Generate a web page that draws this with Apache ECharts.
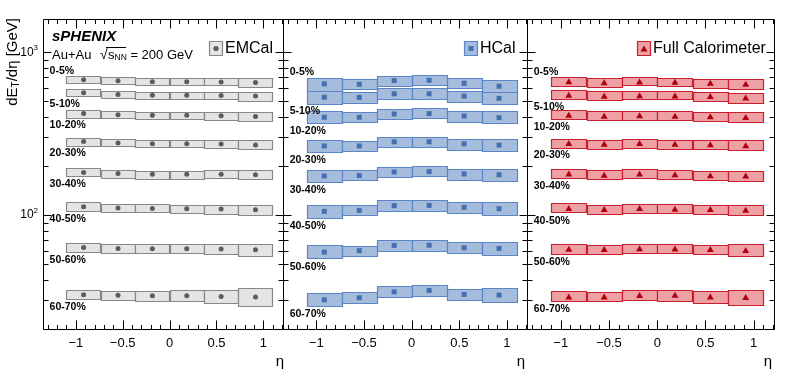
<!DOCTYPE html>
<html>
<head>
<meta charset="utf-8">
<script src="https://cdn.jsdelivr.net/npm/echarts@6/dist/echarts.min.js"></script>
<style>
  html, body { margin: 0; padding: 0; background: #fff; }
  #chart { width: 787px; height: 376px; }
</style>
</head>
<body>
<div id="chart"></div>
<script>
// eta bins (centres) and half width of a bin
const etaBins = [-0.9167, -0.55, -0.1833, 0.1833, 0.55, 0.9167];
const etaHalfWidth = 0.1833;
const centralityClasses = ['0-5%', '5-10%', '10-20%', '20-30%', '30-40%', '40-50%', '50-60%', '60-70%'];

// tick values
const xTickLabels = [-1, -0.5, 0, 0.5, 1];
const xMinorTicks = [-1.3, -1.2, -1.1, -0.9, -0.8, -0.7, -0.6, -0.4, -0.3, -0.2, -0.1,
  0.1, 0.2, 0.3, 0.4, 0.6, 0.7, 0.8, 0.9, 1.1, 1.2];
const yTickLabels = [100, 1000];
const yMinorTicks = [20, 30, 40, 50, 60, 70, 80, 90, 200, 300, 400, 500, 600, 700, 800, 900];

// dE_T/deta (scaled), one row per centrality class
const emcalValues = [
  [677, 668, 660, 658, 657, 651],
  [564, 551, 545, 545, 543, 538],
  [420, 414, 410, 410, 408, 403],
  [283, 277, 274, 274, 273, 270],
  [183, 180, 178, 178, 178, 177],
  [112.7, 110.6, 110.0, 109.5, 109.0, 108.0],
  [63.3, 62.5, 62.2, 62.2, 61.9, 61.3],
  [32.4, 32.2, 32.0, 32.0, 31.7, 31.4]
];
const emcalSys = [
  [0.053, 0.053, 0.050, 0.050, 0.053, 0.063],
  [0.053, 0.053, 0.050, 0.050, 0.053, 0.063],
  [0.055, 0.053, 0.050, 0.050, 0.055, 0.063],
  [0.055, 0.053, 0.052, 0.052, 0.057, 0.065],
  [0.057, 0.055, 0.055, 0.055, 0.060, 0.068],
  [0.063, 0.058, 0.060, 0.060, 0.065, 0.070],
  [0.065, 0.065, 0.065, 0.067, 0.075, 0.088],
  [0.065, 0.063, 0.070, 0.078, 0.093, 0.132]
];

const hcalValues = [
  [640, 636, 670, 673, 645, 619],
  [530, 528, 556, 556, 538, 521],
  [399, 399, 418, 420, 406, 397],
  [266, 266, 282, 282, 274, 269],
  [174, 175, 184, 185, 179, 177],
  [105.5, 107.0, 114.3, 114.8, 111.6, 109.5],
  [59.3, 60.5, 65.2, 65.4, 63.1, 62.5],
  [30.2, 31.1, 33.8, 34.5, 32.6, 32.3]
];
const hcalSys = [
  [0.093, 0.076, 0.073, 0.073, 0.077, 0.091],
  [0.093, 0.078, 0.080, 0.080, 0.078, 0.088],
  [0.091, 0.076, 0.076, 0.076, 0.078, 0.091],
  [0.091, 0.076, 0.076, 0.076, 0.078, 0.090],
  [0.091, 0.076, 0.076, 0.076, 0.078, 0.090],
  [0.098, 0.076, 0.078, 0.080, 0.078, 0.093],
  [0.100, 0.076, 0.078, 0.078, 0.078, 0.100],
  [0.100, 0.080, 0.080, 0.083, 0.080, 0.103]
];

const fullValues = [
  [664, 655, 661, 658, 649, 640],
  [548, 541, 545, 543, 538, 528],
  [414, 408, 410, 408, 404, 400],
  [277, 274, 277, 274, 272, 269],
  [180, 177, 180, 178, 176, 175],
  [110.6, 109.0, 110.6, 109.5, 109.0, 108.0],
  [62.2, 61.9, 62.7, 62.5, 61.9, 61.0],
  [31.7, 31.7, 32.3, 32.4, 31.7, 31.4]
];
const fullSys = [
  [0.065, 0.063, 0.060, 0.060, 0.063, 0.070],
  [0.065, 0.063, 0.060, 0.060, 0.063, 0.070],
  [0.065, 0.063, 0.062, 0.062, 0.063, 0.070],
  [0.065, 0.063, 0.062, 0.062, 0.065, 0.072],
  [0.066, 0.063, 0.062, 0.062, 0.065, 0.072],
  [0.068, 0.063, 0.063, 0.063, 0.063, 0.073],
  [0.073, 0.063, 0.065, 0.065, 0.065, 0.088],
  [0.076, 0.068, 0.070, 0.078, 0.086, 0.109]
];

const FONT = 'Liberation Sans, Arial, Helvetica, sans-serif';

const panels = [
  { name: 'EMCal', values: emcalValues, sys: emcalSys, fill: '#e4e4e4', stroke: '#878787',
    marker: '#5c5c5c', symbol: 'circle', symbolSize: 5,
    grid: { left: 43, top: 19, width: 240, height: 310 }, legendX: 209, etaX: 280 },
  { name: 'HCal', values: hcalValues, sys: hcalSys, fill: '#a5bcdc', stroke: '#5b86c6',
    marker: '#4470b0', symbol: 'rect', symbolSize: 5,
    grid: { left: 283, top: 19, width: 244, height: 310 }, legendX: 464, etaX: 521 },
  { name: 'Full Calorimeter', values: fullValues, sys: fullSys, fill: '#eea0a4', stroke: '#c8202c',
    marker: '#b0000e', symbol: 'triangle', symbolSize: [7, 6],
    grid: { left: 527, top: 19, width: 247, height: 310 }, legendX: 637, etaX: 768 }
];

const labelEta = -1.28;
const snap = v => Math.round(v) + 0.5;

function makeBoxRender(p) {
  return function (params, api) {
    const x = api.value(0), y = api.value(1), e = api.value(2);
    const a = api.coord([x - etaHalfWidth, y * (1 + e)]);
    const b = api.coord([x + etaHalfWidth, y / (1 + e)]);
    return {
      type: 'rect',
      shape: { x: snap(a[0]), y: snap(a[1]), width: Math.round(b[0] - a[0]), height: Math.round(b[1] - a[1]) },
      style: { fill: p.fill, stroke: p.stroke, lineWidth: 1.2 }
    };
  };
}

function renderLabel(params, api) {
  const v = api.value(1), e = api.value(2), r = api.value(3);
  let y;
  if (r === 0) y = api.coord([labelEta, v * (1 + e)])[1] - 5;
  else y = api.coord([labelEta, v / (1 + e)])[1] + 8;
  const x = api.coord([labelEta, v])[0];
  return {
    type: 'text', x: x, y: y,
    style: { text: centralityClasses[r], fontFamily: FONT, fontWeight: 'bold', fontSize: 10.5,
      fill: '#000', align: 'left', verticalAlign: 'middle' }
  };
}

// frame plus inward major/minor ticks on all four sides
function renderTicks(params, api) {
  const cs = params.coordSys;
  const top = snap(cs.y), bottom = snap(cs.y + cs.height), left = snap(cs.x), right = snap(cs.x + cs.width);
  const kids = [{ type: 'rect', shape: { x: left, y: top, width: right - left, height: bottom - top },
    style: { fill: null, stroke: '#000', lineWidth: 1 } }];
  const line = (x1, y1, x2, y2) => kids.push({ type: 'line', shape: { x1, y1, x2, y2 },
    style: { stroke: '#000', lineWidth: 1 } });
  xTickLabels.forEach(v => {
    const x = snap(api.coord([v, 100])[0]);
    line(x, bottom, x, bottom - 9); line(x, top, x, top + 9);
  });
  xMinorTicks.forEach(v => {
    const x = snap(api.coord([v, 100])[0]);
    line(x, bottom, x, bottom - 4.5); line(x, top, x, top + 4.5);
  });
  yTickLabels.forEach(v => {
    const y = snap(api.coord([0, v])[1]);
    line(left, y, left + 8, y); line(right, y, right - 8, y);
  });
  yMinorTicks.forEach(v => {
    const y = snap(api.coord([0, v])[1]);
    line(left, y, left + 5, y); line(right, y, right - 5, y);
  });
  return { type: 'group', children: kids };
}

const grids = [], xAxes = [], yAxes = [], series = [], graphics = [];

panels.forEach((p, i) => {
  grids.push(Object.assign({ show: false }, p.grid));
  xAxes.push({
    gridIndex: i, type: 'value', min: -1.35, max: 1.21,
    axisLine: { show: false }, axisTick: { show: false }, splitLine: { show: false },
    axisLabel: {
      customValues: xTickLabels, margin: 8, fontFamily: FONT, fontSize: 13, color: '#000',
      formatter: v => (v < 0 ? '\u2212' + Math.abs(v) : String(v))
    }
  });
  yAxes.push({
    gridIndex: i, type: 'log', logBase: 10, min: 20, max: 1600,
    axisLine: { show: false }, axisTick: { show: false }, splitLine: { show: false },
    axisLabel: i === 0 ? {
      customValues: yTickLabels, margin: 5, fontFamily: FONT, fontSize: 12, color: '#000',
      formatter: v => '10{sup|' + Math.round(Math.log10(v)) + '}',
      rich: { sup: { fontFamily: FONT, fontSize: 8, padding: [0, 0, 8, 0], color: '#000' } }
    } : { show: false }
  });

  const boxData = [], pointData = [], labelData = [];
  p.values.forEach((row, r) => {
    row.forEach((v, b) => {
      boxData.push([etaBins[b], v, p.sys[r][b]]);
      pointData.push([etaBins[b], v]);
    });
    labelData.push([etaBins[0], row[0], p.sys[r][0], r]);
  });

  series.push({ type: 'custom', name: p.name + ' sys', xAxisIndex: i, yAxisIndex: i, silent: true,
    data: boxData, encode: { x: 0, y: 1 }, renderItem: makeBoxRender(p), z: 2 });
  series.push({ type: 'scatter', name: p.name, xAxisIndex: i, yAxisIndex: i, silent: true,
    data: pointData, symbol: p.symbol, symbolSize: p.symbolSize,
    itemStyle: { color: p.marker, opacity: 1 }, z: 3 });
  series.push({ type: 'custom', xAxisIndex: i, yAxisIndex: i, silent: true,
    data: labelData, encode: { x: 0, y: 1 }, renderItem: renderLabel, z: 4 });
  series.push({ type: 'custom', xAxisIndex: i, yAxisIndex: i, silent: true,
    data: [[0, 100]], encode: { x: 0, y: 1 }, renderItem: renderTicks, z: 5 });

  // legend entry
  const lx = p.legendX, ly = 41;
  graphics.push({ type: 'rect', shape: { x: lx + 0.5, y: ly + 0.5, width: 13, height: 14 },
    style: { fill: p.fill, stroke: p.stroke, lineWidth: 1.2 } });
  if (p.symbol === 'circle') {
    graphics.push({ type: 'circle', shape: { cx: lx + 7, cy: ly + 7.5, r: 2.6 }, style: { fill: p.marker } });
  } else if (p.symbol === 'rect') {
    graphics.push({ type: 'rect', shape: { x: lx + 4.5, y: ly + 5, width: 5, height: 5 }, style: { fill: p.marker } });
  } else {
    graphics.push({ type: 'polygon', shape: { points: [[lx + 7, ly + 4.5], [lx + 10.5, ly + 10.5], [lx + 3.5, ly + 10.5]] },
      style: { fill: p.marker } });
  }
  graphics.push({ type: 'text', x: lx + 16, y: ly + 8,
    style: { text: p.name, fontFamily: FONT, fontSize: 16, fill: '#000', align: 'left', verticalAlign: 'middle' } });

  // eta axis title
  graphics.push({ type: 'text', x: p.etaX, y: 362,
    style: { text: '\u03b7', fontFamily: FONT, fontSize: 15, fill: '#000', align: 'center', verticalAlign: 'middle' } });
});

// y axis title
graphics.push({ type: 'text', x: 13, y: 18, rotation: Math.PI / 2,
  style: { text: 'dE{sub|T}/d\u03b7 [GeV]', fontFamily: FONT, fontSize: 15, fill: '#000',
    align: 'right', verticalAlign: 'middle',
    rich: { sub: { fontFamily: FONT, fontSize: 10, padding: [7, 0, 0, 0] } } } });

// experiment and system labels
graphics.push({ type: 'text', x: 52, y: 37,
  style: { text: 'sPHENIX', fontFamily: FONT, fontSize: 15, fontWeight: 'bold', fontStyle: 'italic',
    fill: '#000', align: 'left', verticalAlign: 'middle' } });
graphics.push({ type: 'text', x: 52, y: 55,
  style: { text: 'Au+Au', fontFamily: FONT, fontSize: 13, fill: '#000', align: 'left', verticalAlign: 'middle' } });
graphics.push({ type: 'text', x: 100, y: 55,
  style: { text: '\u221a', fontFamily: FONT, fontSize: 14, fill: '#000', align: 'left', verticalAlign: 'middle' } });
graphics.push({ type: 'line', shape: { x1: 106, y1: 47.5, x2: 126, y2: 47.5 }, style: { stroke: '#000', lineWidth: 1 } });
graphics.push({ type: 'text', x: 108, y: 55,
  style: { text: 's{sub|NN} = 200 GeV', fontFamily: FONT, fontSize: 13, fill: '#000', align: 'left', verticalAlign: 'middle',
    rich: { sub: { fontFamily: FONT, fontSize: 8.5, padding: [6, 0, 0, 0] } } } });

const chart = echarts.init(document.getElementById('chart'), null, { renderer: 'canvas' });
chart.setOption({
  animation: false,
  backgroundColor: '#fff',
  grid: grids,
  xAxis: xAxes,
  yAxis: yAxes,
  series: series,
  graphic: graphics
});
</script>
</body>
</html>
